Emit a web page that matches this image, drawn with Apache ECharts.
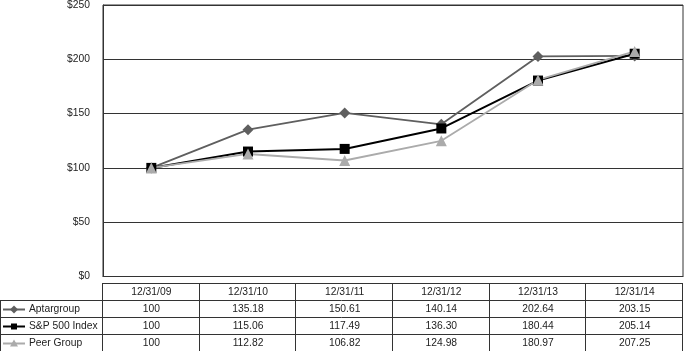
<!DOCTYPE html>
<html>
<head>
<meta charset="utf-8">
<script src="https://cdn.jsdelivr.net/npm/echarts@6/dist/echarts.min.js"></script>
<style>
  html, body { margin: 0; padding: 0; background: #fff; }
  #chart { width: 684px; height: 351px; }
</style>
</head>
<body>
<div id="chart"></div>
<script>
// 数据
var dates = ['12/31/09', '12/31/10', '12/31/11', '12/31/12', '12/31/13', '12/31/14'];
var aptar = [100, 135.18, 150.61, 140.14, 202.64, 203.15];
var sp500 = [100, 115.06, 117.49, 136.30, 180.44, 205.14];
var peer = [100, 112.82, 106.82, 124.98, 180.97, 207.25];
var seriesNames = ['Aptargroup', 'S&P 500 Index', 'Peer Group'];

var colors = ['#5f5f5f', '#000000', '#ababab'];
var symbols = ['diamond', 'rect', 'triangle'];
var font = '10.3px "Liberation Sans", Arial, sans-serif';

var chart = echarts.init(document.getElementById('chart'));

var option = {
  animation: false,
  grid: { left: 103, right: 1, top: 5, bottom: 74.5, show: true, borderColor: '#333', borderWidth: 1 },
  xAxis: {
    type: 'category',
    data: dates,
    boundaryGap: true,
    axisLine: { lineStyle: { color: '#333' } },
    axisTick: { show: false },
    axisLabel: { show: false }
  },
  yAxis: {
    type: 'value',
    min: 0,
    max: 250,
    interval: 50,
    axisLine: { show: true, lineStyle: { color: '#333' } },
    axisTick: { show: false },
    splitLine: { lineStyle: { color: '#333', width: 1 } },
    axisLabel: {
      color: '#222',
      fontSize: 10.3,
      fontFamily: 'Liberation Sans, Arial, sans-serif',
      margin: 13,
      formatter: function (v) { return '$' + v; }
    }
  },
  series: [aptar, sp500, peer].map(function (d, i) {
    return {
      name: seriesNames[i],
      type: 'line',
      data: d,
      symbol: symbols[i],
      symbolSize: i === 1 ? 10 : 11,
      color: colors[i],
      lineStyle: { width: i === 1 ? 2 : 1.8, color: colors[i] },
      itemStyle: { color: colors[i] }
    };
  })
};
chart.setOption(option);

// 数据表格
function buildTable() {
  var centers = dates.map(function (d) {
    return chart.convertToPixel({ xAxisIndex: 0 }, d);
  });
  var band = centers[1] - centers[0];
  var left = centers[0] - band / 2;
  var right = centers[centers.length - 1] + band / 2;
  var headTop = 283;
  var rowH = 17;
  var els = [];
  var lineStyle = { stroke: '#333', lineWidth: 1 };

  // 横线
  for (var r = 0; r <= 4; r++) {
    var y = Math.round(headTop + r * rowH) + 0.5;
    els.push({ type: 'line', shape: { x1: r === 0 ? left : 0, y1: y, x2: right, y2: y }, style: lineStyle, silent: true });
  }
  // 竖线
  var bottom = headTop + 4 * rowH;
  els.push({ type: 'line', shape: { x1: 0.5, y1: headTop + rowH, x2: 0.5, y2: bottom }, style: lineStyle });
  for (var c = 0; c <= dates.length; c++) {
    var x = Math.round(left + c * band) - 0.5;
    if (c === dates.length) x = Math.min(x, 683.5);
    els.push({ type: 'line', shape: { x1: x, y1: headTop, x2: x, y2: bottom }, style: lineStyle });
  }
  // 表头
  dates.forEach(function (d, i) {
    els.push({ type: 'text', style: { text: d, x: centers[i], y: headTop + rowH / 2 + 1, textAlign: 'center', textVerticalAlign: 'middle', font: font, fill: '#222' } });
  });
  // 数据行
  [aptar, sp500, peer].forEach(function (row, r) {
    var yc = headTop + (r + 1) * rowH + rowH / 2 + 1;
    els.push({ type: 'line', shape: { x1: 3, y1: yc, x2: 25, y2: yc }, style: { stroke: colors[r], lineWidth: 2 } });
    if (r === 0) {
      els.push({ type: 'polygon', shape: { points: [[14, yc - 4], [18, yc], [14, yc + 4], [10, yc]] }, style: { fill: colors[r] } });
    } else if (r === 1) {
      els.push({ type: 'rect', shape: { x: 11, y: yc - 3, width: 6, height: 6 }, style: { fill: colors[r] } });
    } else {
      els.push({ type: 'polygon', shape: { points: [[14, yc - 4], [18, yc + 3], [10, yc + 3]] }, style: { fill: colors[r] } });
    }
    els.push({ type: 'text', style: { text: seriesNames[r], x: 29, y: yc, textAlign: 'left', textVerticalAlign: 'middle', font: font, fill: '#222' } });
    row.forEach(function (v, i) {
      var txt = i === 0 ? String(v) : v.toFixed(2);
      els.push({ type: 'text', style: { text: txt, x: centers[i], y: yc, textAlign: 'center', textVerticalAlign: 'middle', font: font, fill: '#222' } });
    });
  });
  chart.setOption({ graphic: { elements: els } });
}
buildTable();
</script>
</body>
</html>
